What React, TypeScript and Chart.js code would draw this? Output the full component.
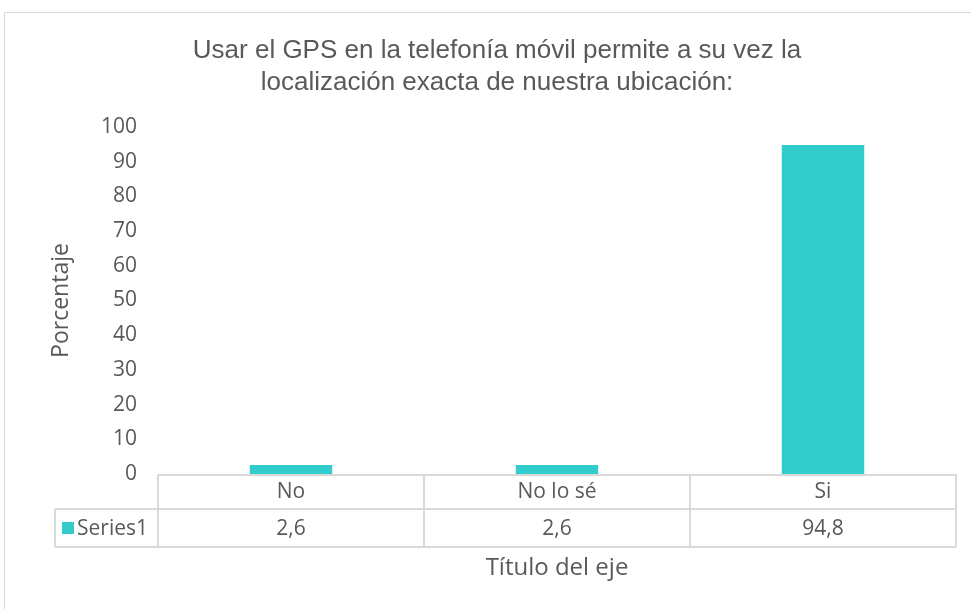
import React, { useEffect, useRef } from 'react';
import { Chart, registerables } from 'chart.js';

Chart.register(...registerables);

const categories: string[] = ['No', 'No lo sé', 'Si'];
const series1: number[] = [2.6, 2.6, 94.8];
const seriesName = 'Series1';
const titleLines: string[] = [
  'Usar el GPS en la telefonía móvil permite a su vez la',
  'localización exacta de nuestra ubicación:',
];
const yAxisTitle = 'Porcentaje';
const xAxisTitle = 'Título del eje';
const yMin = 0;
const yMax = 100;
const yStep = 10;

const BAR_COLOR = '#33CCCC';
const TEXT_COLOR = '#595959';
const LINE_COLOR = '#D9D9D9';
const BODY_FONT = '"Open Sans", "DejaVu Sans", sans-serif';
const TITLE_FONT = '"Liberation Sans", Arial, sans-serif';

const fmt = (v: number) => v.toFixed(1).replace('.', ',');

const frameAndTablePlugin = {
  id: 'frameAndTable',
  beforeDraw(chart: any) {
    const { ctx, width, height } = chart;
    ctx.save();
    ctx.fillStyle = '#ffffff';
    ctx.fillRect(0, 0, width, height);
    ctx.strokeStyle = LINE_COLOR;
    ctx.lineWidth = 1;
    ctx.strokeRect(4.5, 12.5, width + 20, height + 20);

    // chart title
    ctx.fillStyle = TEXT_COLOR;
    ctx.font = `26px ${TITLE_FONT}`;
    ctx.textAlign = 'center';
    ctx.textBaseline = 'alphabetic';
    titleLines.forEach((t, i) => ctx.fillText(t, 497, 58 + i * 32));
    ctx.restore();
  },
  afterDraw(chart: any) {
    const { ctx, chartArea } = chart;
    const xs = chart.scales.x;
    const n = categories.length;
    const left = chartArea.left;
    const right = chartArea.right;
    const top = chartArea.bottom;
    const r1b = top + 35;
    const r2b = r1b + 38;
    const legendLeft = 55;

    const bounds: number[] = [];
    for (let i = 0; i <= n; i++) {
      if (i === 0) bounds.push(left);
      else if (i === n) bounds.push(right);
      else bounds.push((xs.getPixelForValue(i - 1) + xs.getPixelForValue(i)) / 2);
    }

    ctx.save();
    ctx.strokeStyle = LINE_COLOR;
    ctx.lineWidth = 2;
    const line = (x1: number, y1: number, x2: number, y2: number) => {
      ctx.beginPath();
      ctx.moveTo(x1, y1);
      ctx.lineTo(x2, y2);
      ctx.stroke();
    };
    line(left, top + 1, right, top + 1);
    line(legendLeft, r1b, right, r1b);
    line(legendLeft, r2b, right, r2b);
    for (const b of bounds) line(b, top, b, r2b);
    line(legendLeft, r1b, legendLeft, r2b);

    ctx.fillStyle = TEXT_COLOR;
    ctx.font = `21px ${BODY_FONT}`;
    ctx.textAlign = 'center';
    ctx.textBaseline = 'middle';
    categories.forEach((c, i) => {
      const cx = xs.getPixelForValue(i);
      ctx.fillText(c, cx, (top + r1b) / 2 + 1);
      ctx.fillText(fmt(series1[i]), cx, (r1b + r2b) / 2 + 1);
    });

    // legend key
    const my = (r1b + r2b) / 2;
    ctx.fillStyle = BAR_COLOR;
    ctx.fillRect(62, my - 6, 12, 12);
    ctx.fillStyle = TEXT_COLOR;
    ctx.textAlign = 'left';
    ctx.fillText(seriesName, 77, my + 1);
    ctx.restore();
  },
};

export default function App() {
  const canvasRef = useRef<HTMLCanvasElement | null>(null);

  useEffect(() => {
    document.body.style.margin = '0';
    const canvas = canvasRef.current;
    if (!canvas) return;
    const chart = new Chart(canvas, {
      type: 'bar',
      data: {
        labels: categories,
        datasets: [
          {
            label: seriesName,
            data: series1,
            backgroundColor: BAR_COLOR,
            borderWidth: 0,
            barPercentage: 0.31,
            categoryPercentage: 1,
          },
        ],
      },
      options: {
        responsive: false,
        animation: false,
        devicePixelRatio: 1,
        layout: { padding: { left: 0, right: 15, top: 127, bottom: 0 } },
        plugins: {
          legend: { display: false },
          tooltip: { enabled: false },
          title: { display: false },
        },
        scales: {
          x: {
            grid: { display: false, drawTicks: false },
            border: { display: false },
            ticks: { display: false },
            title: {
              display: true,
              text: xAxisTitle,
              color: TEXT_COLOR,
              font: { family: BODY_FONT, size: 24 },
              padding: { top: 0, bottom: 26 },
            },
            afterFit: (scale: any) => {
              scale.height = 135;
            },
          },
          y: {
            min: yMin,
            max: yMax,
            grid: { display: false, drawTicks: false },
            border: { display: false },
            ticks: {
              stepSize: yStep,
              color: TEXT_COLOR,
              font: { family: BODY_FONT, size: 21 },
              padding: 21,
            },
            title: {
              display: true,
              text: yAxisTitle,
              color: TEXT_COLOR,
              font: { family: BODY_FONT, size: 23 },
              padding: { top: 48, bottom: 0 },
            },
            afterFit: (scale: any) => {
              scale.width = 158;
            },
          },
        },
      },
      plugins: [frameAndTablePlugin],
    });
    return () => chart.destroy();
  }, []);

  return (
    <div style={{ width: 971, height: 609 }}>
      <canvas ref={canvasRef} width={971} height={609} />
    </div>
  );
}
